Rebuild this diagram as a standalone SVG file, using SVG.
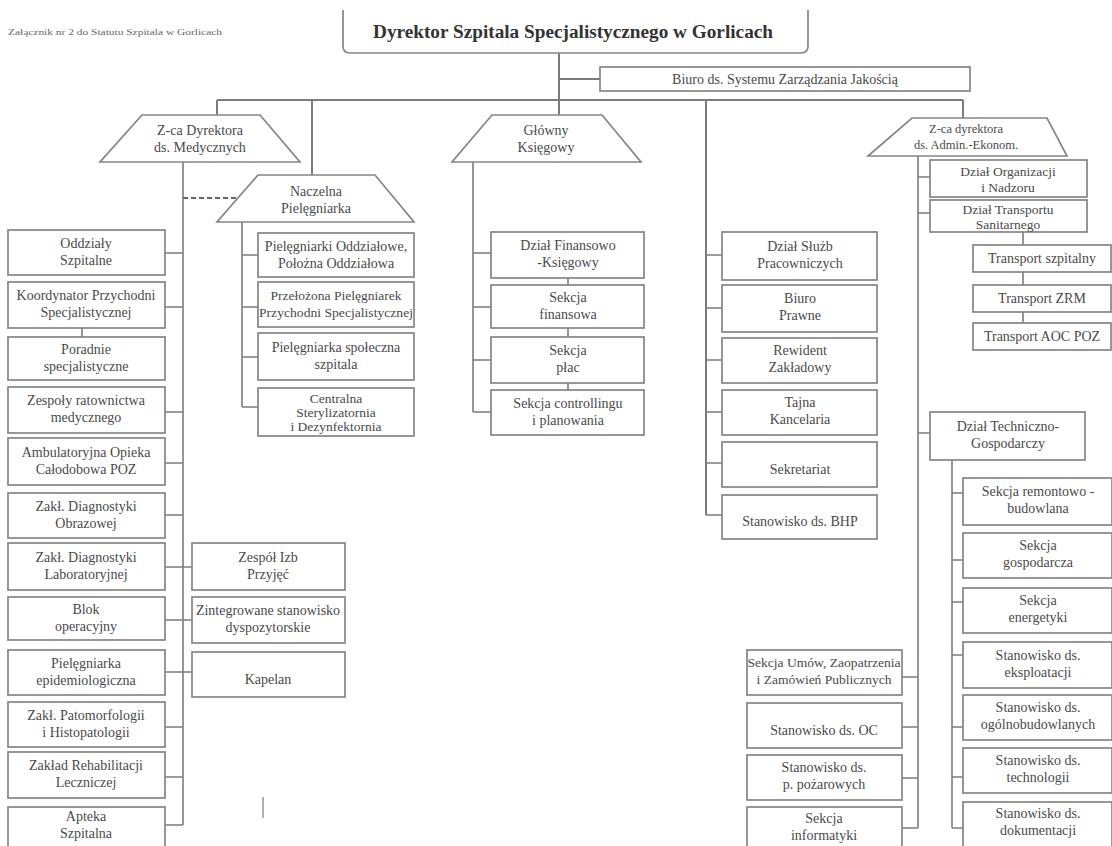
<svg xmlns="http://www.w3.org/2000/svg" width="1112" height="846" viewBox="0 0 1112 846">
<style>
.b{fill:#fff;stroke:#858585;stroke-width:1.7}
.t{font-family:"Liberation Serif","Times New Roman",serif;font-size:14px;fill:#4a4a4a;text-anchor:middle}
.s{font-size:13.5px}
.c{stroke:#7c7c7c;stroke-width:1.6;fill:none}
.d{stroke:#666;stroke-width:1.8;fill:none;stroke-dasharray:5 3}
</style>
<rect width="1112" height="846" fill="#fff"/>
<text x="8" y="35" font-family="Liberation Serif, serif" font-size="8.5" fill="#666" textLength="214" lengthAdjust="spacingAndGlyphs">Załącznik nr 2 do Statutu Szpitala w Gorlicach</text>

<g id="connectors">
<path class="c" d="M559,53V115M559,79H600M217,100H963M217,100V115M312,100V175M706,100V515M963,100V118" style="stroke-width:2"/>
<path class="c" d="M183,162V825M165,253H183M165,307H183M165,412H183M165,463H183M165,515H183M165,567H192M165,620H192M165,672H192M165,727H183M165,777H183M165,825H183M82,328V337"/>
<path class="d" d="M183,198H238"/>
<path class="c" d="M242,222V407M242,255H258M242,307H258M242,357H258M242,407H258"/>
<path class="c" d="M473,162V412M473,253H491M473,307H491M473,360H491M473,412H491M568,278V285M568,328V337M568,383V390"/>
<path class="c" d="M706,255H722M706,308H722M706,360H722M706,412H722M706,463H722M706,515H722"/>
<path class="c" d="M918,156V828M918,177H930M918,213H930M918,433H930M902,677H918M902,727H918M902,778H918M902,828H918"/>
<path class="c" d="M1023,232V245M1023,272V285M1023,312V323"/>
<path class="c" d="M952,460V828M952,493H963M952,560H963M952,602H963M952,655H963M952,727H963M952,777H963M952,828H963"/>
<path class="c" d="M263,797V818" style="stroke-width:1.2"/>
</g>

<g id="n-dyrektor"><path class="b" d="M343,10V46Q343,53 350,53H801Q808,53 808,46V10" style="fill:none"/><text class="t" x="573" y="38" textLength="400" lengthAdjust="spacingAndGlyphs" style="font-size:18.5px;font-weight:bold;fill:#333">Dyrektor Szpitala Specjalistycznego w Gorlicach</text></g>
<g id="n-biuro-jakosc"><rect class="b" x="600" y="67" width="370" height="24"/><text class="t" x="785" y="84">Biuro ds. Systemu Zarządzania Jakością</text></g>

<g id="n-zca-med"><polygon class="b" points="142,115 260,115 300,162 100,162"/><text class="t" x="200" y="135">Z-ca Dyrektora</text><text class="t" x="200" y="152">ds. Medycznych</text></g>
<g id="n-naczelna"><polygon class="b" points="258,175 375,175 414,222 217,222"/><text class="t" x="316" y="196">Naczelna</text><text class="t" x="316" y="213">Pielęgniarka</text></g>
<g id="n-ksiegowy"><polygon class="b" points="492,115 602,115 641,162 452,162"/><text class="t" x="546" y="135">Główny</text><text class="t" x="546" y="152">Księgowy</text></g>
<g id="n-zca-admin"><polygon class="b" points="912,118 1047,118 1067,156 868,156"/><text class="t" x="966" y="133" style="font-size:12.5px">Z-ca dyrektora</text><text class="t" x="966" y="149" style="font-size:12.5px">ds. Admin.-Ekonom.</text></g>

<g id="n-oddzialy"><rect class="b" x="8" y="230" width="157" height="45"/><text class="t" x="86" y="248">Oddziały</text><text class="t" x="86" y="265">Szpitalne</text></g>
<g id="n-koordynator"><rect class="b" x="8" y="282" width="157" height="46"/><text class="t" x="86" y="300">Koordynator Przychodni</text><text class="t" x="86" y="317">Specjalistycznej</text></g>
<g id="n-poradnie"><rect class="b" x="8" y="337" width="157" height="43"/><text class="t" x="86" y="354">Poradnie</text><text class="t" x="86" y="371">specjalistyczne</text></g>
<g id="n-zespoly"><rect class="b" x="8" y="387" width="157" height="46"/><text class="t" x="86" y="405">Zespoły ratownictwa</text><text class="t" x="86" y="422">medycznego</text></g>
<g id="n-ambulatoryjna"><rect class="b" x="8" y="438" width="157" height="47"/><text class="t" x="86" y="457">Ambulatoryjna Opieka</text><text class="t" x="86" y="474">Całodobowa POZ</text></g>
<g id="n-diag-obraz"><rect class="b" x="8" y="493" width="157" height="45"/><text class="t" x="86" y="511">Zakł. Diagnostyki</text><text class="t" x="86" y="528">Obrazowej</text></g>
<g id="n-diag-lab"><rect class="b" x="8" y="543" width="157" height="47"/><text class="t" x="86" y="562">Zakł. Diagnostyki</text><text class="t" x="86" y="579">Laboratoryjnej</text></g>
<g id="n-blok"><rect class="b" x="8" y="597" width="157" height="43"/><text class="t" x="86" y="614">Blok</text><text class="t" x="86" y="631">operacyjny</text></g>
<g id="n-epid"><rect class="b" x="8" y="650" width="157" height="45"/><text class="t" x="86" y="668">Pielęgniarka</text><text class="t" x="86" y="685">epidemiologiczna</text></g>
<g id="n-patomorf"><rect class="b" x="8" y="702" width="157" height="45"/><text class="t" x="86" y="720">Zakł. Patomorfologii</text><text class="t" x="86" y="737">i Histopatologii</text></g>
<g id="n-rehab"><rect class="b" x="8" y="752" width="157" height="46"/><text class="t" x="86" y="770">Zakład Rehabilitacji</text><text class="t" x="86" y="787">Leczniczej</text></g>
<g id="n-apteka"><rect class="b" x="8" y="807" width="157" height="50"/><text class="t" x="86" y="821">Apteka</text><text class="t" x="86" y="838">Szpitalna</text></g>

<g id="n-izba"><rect class="b" x="192" y="543" width="153" height="47"/><text class="t" x="268" y="562">Zespół Izb</text><text class="t" x="268" y="579">Przyjęć</text></g>
<g id="n-dyspozytor"><rect class="b" x="192" y="597" width="153" height="46"/><text class="t" x="268" y="615">Zintegrowane stanowisko</text><text class="t" x="268" y="632">dyspozytorskie</text></g>
<g id="n-kapelan"><rect class="b" x="192" y="652" width="153" height="45"/><text class="t" x="268" y="684">Kapelan</text></g>

<g id="n-piel-oddz"><rect class="b" x="258" y="233" width="156" height="44"/><text class="t" x="336" y="251">Pielęgniarki Oddziałowe,</text><text class="t" x="336" y="268">Położna Oddziałowa</text></g>
<g id="n-przelozona"><rect class="b" x="258" y="282" width="156" height="45"/><text class="t s" x="336" y="300">Przełożona Pielęgniarek</text><text class="t s" x="336" y="317" textLength="154" lengthAdjust="spacingAndGlyphs">Przychodni Specjalistycznej</text></g>
<g id="n-piel-spol"><rect class="b" x="258" y="333" width="156" height="47"/><text class="t" x="336" y="352">Pielęgniarka społeczna</text><text class="t" x="336" y="369">szpitala</text></g>
<g id="n-steryl"><rect class="b" x="258" y="388" width="156" height="48"/><text class="t s" x="336" y="403">Centralna</text><text class="t s" x="336" y="417">Sterylizatornia</text><text class="t s" x="336" y="431">i Dezynfektornia</text></g>

<g id="n-fin-ksieg"><rect class="b" x="491" y="232" width="153" height="46"/><text class="t" x="568" y="250">Dział Finansowo</text><text class="t" x="568" y="267">-Księgowy</text></g>
<g id="n-sek-fin"><rect class="b" x="491" y="285" width="153" height="43"/><text class="t" x="568" y="302">Sekcja</text><text class="t" x="568" y="319">finansowa</text></g>
<g id="n-sek-plac"><rect class="b" x="491" y="337" width="153" height="46"/><text class="t" x="568" y="355">Sekcja</text><text class="t" x="568" y="372">płac</text></g>
<g id="n-sek-contr"><rect class="b" x="491" y="390" width="153" height="45"/><text class="t" x="568" y="408">Sekcja controllingu</text><text class="t" x="568" y="425">i planowania</text></g>

<g id="n-sluzb"><rect class="b" x="722" y="232" width="155" height="48"/><text class="t" x="800" y="251">Dział Służb</text><text class="t" x="800" y="268">Pracowniczych</text></g>
<g id="n-prawne"><rect class="b" x="722" y="285" width="155" height="47"/><text class="t" x="800" y="303">Biuro</text><text class="t" x="800" y="320">Prawne</text></g>
<g id="n-rewident"><rect class="b" x="722" y="338" width="155" height="45"/><text class="t" x="800" y="355">Rewident</text><text class="t" x="800" y="372">Zakładowy</text></g>
<g id="n-tajna"><rect class="b" x="722" y="390" width="155" height="45"/><text class="t" x="800" y="407">Tajna</text><text class="t" x="800" y="424">Kancelaria</text></g>
<g id="n-sekretariat"><rect class="b" x="722" y="442" width="155" height="45"/><text class="t" x="800" y="474">Sekretariat</text></g>
<g id="n-bhp"><rect class="b" x="722" y="495" width="155" height="44"/><text class="t" x="800" y="526">Stanowisko ds. BHP</text></g>

<g id="n-organizacji"><rect class="b" x="930" y="160" width="157" height="37"/><text class="t s" x="1008" y="176">Dział Organizacji</text><text class="t s" x="1008" y="192">i Nadzoru</text></g>
<g id="n-transportu"><rect class="b" x="930" y="200" width="157" height="32"/><text class="t s" x="1008" y="214">Dział Transportu</text><text class="t s" x="1008" y="229">Sanitarnego</text></g>
<g id="n-tr-szpital"><rect class="b" x="973" y="245" width="138" height="27"/><text class="t" x="1042" y="263">Transport szpitalny</text></g>
<g id="n-tr-zrm"><rect class="b" x="973" y="285" width="138" height="27"/><text class="t" x="1042" y="303">Transport ZRM</text></g>
<g id="n-tr-aoc"><rect class="b" x="973" y="323" width="138" height="27"/><text class="t" x="1042" y="341">Transport AOC POZ</text></g>

<g id="n-techn"><rect class="b" x="930" y="412" width="155" height="48"/><text class="t" x="1008" y="431">Dział Techniczno-</text><text class="t" x="1008" y="448">Gospodarczy</text></g>
<g id="n-remont"><rect class="b" x="963" y="478" width="149" height="47"/><text class="t" x="1038" y="496">Sekcja remontowo -</text><text class="t" x="1038" y="513">budowlana</text></g>
<g id="n-gosp"><rect class="b" x="963" y="533" width="149" height="45"/><text class="t" x="1038" y="550">Sekcja</text><text class="t" x="1038" y="567">gospodarcza</text></g>
<g id="n-energ"><rect class="b" x="963" y="588" width="149" height="45"/><text class="t" x="1038" y="605">Sekcja</text><text class="t" x="1038" y="622">energetyki</text></g>
<g id="n-eksploat"><rect class="b" x="963" y="642" width="149" height="46"/><text class="t" x="1038" y="660">Stanowisko ds.</text><text class="t" x="1038" y="677">eksploatacji</text></g>
<g id="n-ogolnobud"><rect class="b" x="963" y="695" width="149" height="45"/><text class="t" x="1038" y="712">Stanowisko ds.</text><text class="t" x="1038" y="729">ogólnobudowlanych</text></g>
<g id="n-technol"><rect class="b" x="963" y="748" width="149" height="45"/><text class="t" x="1038" y="765">Stanowisko ds.</text><text class="t" x="1038" y="782">technologii</text></g>
<g id="n-dokum"><rect class="b" x="963" y="802" width="149" height="50"/><text class="t" x="1038" y="818">Stanowisko ds.</text><text class="t" x="1038" y="835">dokumentacji</text></g>

<g id="n-umow"><rect class="b" x="747" y="650" width="155" height="45"/><text class="t s" x="824" y="667" textLength="153" lengthAdjust="spacingAndGlyphs">Sekcja Umów, Zaopatrzenia</text><text class="t s" x="824" y="684">i Zamówień Publicznych</text></g>
<g id="n-oc"><rect class="b" x="747" y="703" width="155" height="45"/><text class="t" x="824" y="735">Stanowisko ds. OC</text></g>
<g id="n-ppoz"><rect class="b" x="747" y="755" width="155" height="45"/><text class="t" x="824" y="772">Stanowisko ds.</text><text class="t" x="824" y="789">p. pożarowych</text></g>
<g id="n-informatyki"><rect class="b" x="747" y="807" width="155" height="50"/><text class="t" x="824" y="823">Sekcja</text><text class="t" x="824" y="840">informatyki</text></g>
</svg>
